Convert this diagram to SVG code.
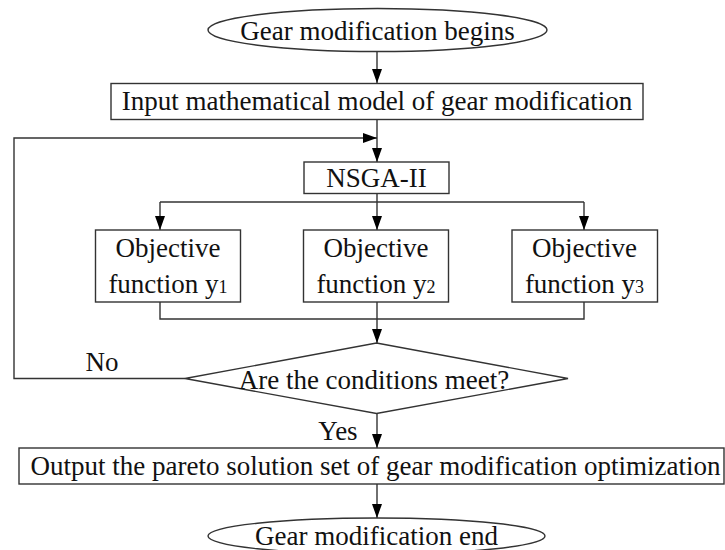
<svg xmlns="http://www.w3.org/2000/svg" width="725" height="550" viewBox="0 0 725 550">
<defs>
<marker id="arr" markerUnits="userSpaceOnUse" markerWidth="14" markerHeight="10" refX="14" refY="5" orient="auto">
<path d="M0,0 L14,5 L0,10 z" fill="#000"/>
</marker>
<style>
.sh{fill:#fff;stroke:#333;stroke-width:1.4}
.ln{fill:none;stroke:#333;stroke-width:1.4}
.ar{fill:none;stroke:#333;stroke-width:1.4;marker-end:url(#arr)}
text{font-family:"Liberation Serif","Times New Roman",serif;font-size:27px;fill:#111;text-anchor:middle}
.sub{font-size:18px}
</style>
</defs>
<g id="connectors">
<line class="ar" x1="377" y1="52" x2="377" y2="83"/>
<line class="ar" x1="377" y1="119" x2="377" y2="162"/>
<path class="ar" d="M185,378.5 H14 V138 H377"/>
<line class="ar" x1="377" y1="193" x2="377" y2="230"/>
<path class="ln" d="M160,202 H584"/>
<line class="ar" x1="160" y1="202" x2="160" y2="230"/>
<line class="ar" x1="584" y1="202" x2="584" y2="230"/>
<path class="ln" d="M160,302 V319 H584 V302"/>
<line class="ar" x1="377" y1="302" x2="377" y2="343"/>
<line class="ar" x1="377" y1="413" x2="377" y2="448"/>
<line class="ar" x1="377" y1="484" x2="377" y2="518"/>
<text x="102" y="371">No</text>
<text x="338" y="440">Yes</text>
</g>
<g id="start">
<ellipse class="sh" cx="377.5" cy="30" rx="169.5" ry="21.5"/>
<text x="377.5" y="39.5">Gear modification begins</text>
</g>
<g id="input">
<rect class="sh" x="111" y="83.5" width="532" height="36"/>
<text x="377" y="110">Input mathematical model of gear modification</text>
</g>
<g id="nsga">
<rect class="sh" x="304" y="162" width="145" height="31.5"/>
<text x="376.5" y="187">NSGA-II</text>
</g>
<g id="obj1">
<rect class="sh" x="95.5" y="230" width="145" height="72"/>
<text x="168" y="256.5">Objective</text>
<text x="168" y="292.5">function y<tspan class="sub">1</tspan></text>
</g>
<g id="obj2">
<rect class="sh" x="303.5" y="230" width="145" height="72"/>
<text x="376" y="256.5">Objective</text>
<text x="376" y="292.5">function y<tspan class="sub">2</tspan></text>
</g>
<g id="obj3">
<rect class="sh" x="512" y="230" width="145.5" height="72"/>
<text x="584.5" y="256.5">Objective</text>
<text x="584.5" y="292.5">function y<tspan class="sub">3</tspan></text>
</g>
<g id="decision">
<polygon class="sh" points="376.5,343 568,378.5 376.5,413.5 185,378.5"/>
<text x="374" y="389">Are the conditions meet?</text>
</g>
<g id="output">
<rect class="sh" x="19" y="448" width="705" height="36"/>
<text x="375.5" y="475">Output the pareto solution set of gear modification optimization</text>
</g>
<g id="end">
<ellipse class="sh" cx="376.5" cy="536" rx="168.5" ry="18"/>
<text x="376.5" y="545">Gear modification end</text>
</g>
</svg>
